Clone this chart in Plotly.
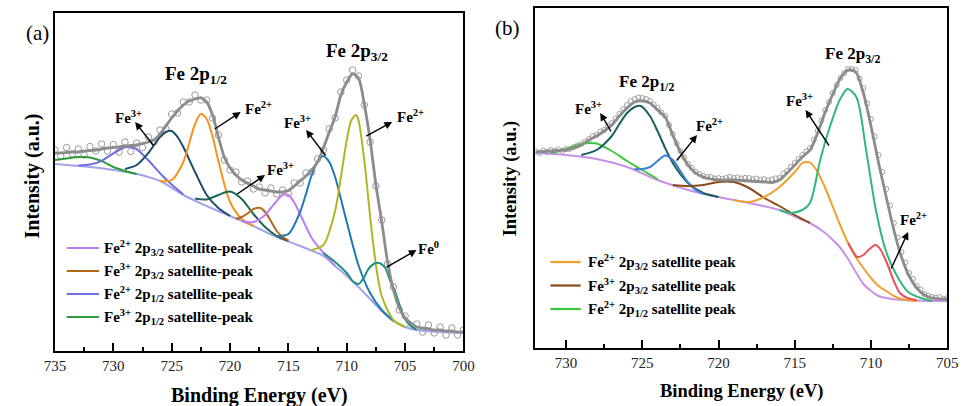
import plotly.graph_objects as go

W, H = 967, 406
FONT = "Liberation Serif"

# ================= Panel (a) data (binding energy eV, intensity a.u.) =================
be_a = [735.0, 734.5, 734.0, 733.5, 733.0, 732.5, 732.0, 731.5, 731.0, 730.5, 730.0, 729.5,
        729.0, 728.5, 728.0, 727.5, 727.0, 726.5, 726.0, 725.5, 725.0, 724.5, 724.0, 723.5,
        723.0, 722.5, 722.0, 721.5, 721.0, 720.5, 720.0, 719.5, 719.0, 718.5, 718.0, 717.5,
        717.0, 716.5, 716.0, 715.5, 715.0, 714.5, 714.0, 713.5, 713.0, 712.5, 712.0, 711.5,
        711.0, 710.5, 710.0, 709.5, 709.0, 708.5, 708.0, 707.5, 707.0, 706.5, 706.0, 705.5,
        705.0, 704.5, 704.0, 703.5, 703.0, 702.5, 702.0, 701.5, 701.0, 700.5, 700.0]
raw_a = [201, 195, 203.5, 197, 202, 196, 204.5, 200, 207, 200, 206.5, 199, 209, 199.5, 208,
         203.5, 214, 209, 221, 222, 237, 238, 249, 249, 256, 251, 251, 233, 216, 191, 181, 179,
         169, 170, 162, 164, 158, 163, 157, 161, 157.5, 168, 168, 178, 179, 192, 201, 222, 233,
         259, 271, 281, 275, 246, 209, 165, 131, 87, 64, 41, 35, 25, 27, 19, 26, 18, 24, 16, 23,
         16, 21]
fit_a = [198, 198, 198.5, 199, 199, 200, 200.5, 201, 202, 203, 203.5, 204, 205, 205.5, 206,
         207.5, 209, 211, 217, 225, 233, 240, 246, 250, 252, 253, 249, 236, 214, 194, 183, 176,
         171, 168, 165, 162, 161, 160, 159, 159, 160.5, 165, 170, 175, 181, 189, 203, 219, 234,
         256, 269, 277, 273, 247, 211, 166, 129, 89, 61, 43, 33, 28, 24, 23, 22, 21, 21, 20, 20,
         19, 19]

bg_a_be = [735, 732, 730, 728, 726, 724, 722, 720, 718, 716, 714, 712, 711, 710, 709, 708, 707,
           706, 705, 704, 702, 700]
bg_a = [187, 184, 181, 177, 170, 156, 145, 135, 125, 114, 105, 95, 85, 75, 64, 52, 40, 30, 24,
        21, 19, 18]

sat3_12_a_be = [735, 734, 733, 732.5, 732, 731, 730, 729, 728]
sat3_12_a = [191, 192.5, 194, 194, 193.5, 190, 184, 180, 177]

sat2_12_a_be = [733, 732, 731, 730, 729, 728.5, 728, 727, 726, 725, 724]
sat2_12_a = [185.5, 186.4, 190.2, 197.7, 203.8, 204, 201.8, 190.7, 177.7, 166.4, 156.5]

fe3_12_a_be = [729, 728, 727, 726, 725.5, 725, 724.5, 724, 723, 722, 721, 720]
fe3_12_a = [182, 186, 198, 214, 219, 220, 214, 204, 179, 156, 143, 135]

fe2_12_a_be = [726, 725, 724, 723, 722.5, 722, 721.5, 721, 720, 719, 718]
fe2_12_a = [170, 171, 189, 227, 237, 232, 214.5, 190, 149, 132, 125]

fe3s_a_be = [723, 722, 721, 720, 719, 718, 717, 716, 715]
fe3s_a = [152.5, 151.5, 156, 159.4, 152, 137, 124, 115, 110]

sat3_32_a_be = [719.5, 719, 718.5, 718, 717.4, 717, 716.5, 716, 715.5, 715]
sat3_32_a = [132, 134, 137.5, 142, 143, 139, 130, 120, 114.3, 110.5]

sat2_32_a_be = [719, 718, 717, 716.5, 716, 715.5, 715, 714.5, 714, 713, 712, 711]
sat2_32_a = [130, 129, 136, 143, 150, 156, 156, 148.5, 137, 113, 98, 85]

fe3_32_a_be = [716, 715, 714, 713, 712.5, 712, 711.5, 711, 710, 709, 708, 707, 706]
fe3_32_a = [115, 117, 139, 176, 189.5, 195, 189, 174, 129, 86, 58, 41, 30]

fe2_32_a_be = [713, 712, 711, 710.5, 710, 709.6, 709.2, 709, 708.5, 708, 707.5, 707, 706, 705]
fe2_32_a = [101, 106, 140, 174, 211, 231, 236, 231, 191, 135, 86, 55, 31, 24]

fe0_a_be = [712, 711, 710, 709.5, 709, 708.5, 708.2, 707.7, 707.2, 706.7, 706.3, 705.9, 705.5,
            705.1, 704.6, 704]
fe0_a = [98, 89, 78, 70, 67, 74, 81, 87, 88, 83, 71, 61, 47, 34, 26, 21]

# ================= Panel (b) data =================
be_b_fit = [732.0, 731.5, 731.0, 730.5, 730.0, 729.5, 729.0, 728.5, 728.0, 727.5, 727.0, 726.5,
            726.0, 725.5, 725.0, 724.5, 724.0, 723.5, 723.0, 722.5, 722.0, 721.5, 721.0, 720.5,
            720.0, 719.5, 719.0, 718.5, 718.0, 717.5, 717.0, 716.5, 716.0, 715.5, 715.0, 714.5,
            714.0, 713.5, 713.0, 712.5, 712.0, 711.5, 711.0, 710.5, 710.0, 709.5, 709.0, 708.5,
            708.0, 707.5, 707.0, 706.5, 706.0, 705.5, 705.0]
fit_b = [196, 196.5, 197, 197.5, 198, 200, 203, 208, 212, 217, 223, 232, 240, 246, 247, 245,
         238, 231, 213, 196, 183, 175, 171, 169, 168, 168, 168, 167.5, 167, 166.5, 166, 165.5,
         168, 175, 183, 191, 198, 215, 236, 254, 270, 278, 276, 255, 222, 185, 151, 118, 91, 72,
         60, 53, 50, 49, 49]

be_b_raw = [732.0, 731.75, 731.5, 731.25, 731.0, 730.75, 730.5, 730.25, 730.0, 729.75, 729.5,
            729.25, 729.0, 728.75, 728.5, 728.25, 728.0, 727.75, 727.5, 727.25, 727.0, 726.75,
            726.5, 726.25, 726.0, 725.75, 725.5, 725.25, 725.0, 724.75, 724.5, 724.25, 724.0,
            723.75, 723.5, 723.25, 723.0, 722.75, 722.5, 722.25, 722.0, 721.75, 721.5, 721.25,
            721.0, 720.75, 720.5, 720.25, 720.0, 719.75, 719.5, 719.25, 719.0, 718.75, 718.5,
            718.25, 718.0, 717.75, 717.5, 717.25, 717.0, 716.75, 716.5, 716.25, 716.0, 715.75,
            715.5, 715.25, 715.0, 714.75, 714.5, 714.25, 714.0, 713.75, 713.5, 713.25, 713.0,
            712.75, 712.5, 712.25, 712.0, 711.75, 711.5, 711.25, 711.0, 710.75, 710.5, 710.25,
            710.0, 709.75, 709.5, 709.25, 709.0, 708.75, 708.5, 708.25, 708.0, 707.75, 707.5,
            707.25, 707.0, 706.75, 706.5, 706.25, 706.0, 705.75, 705.5, 705.25, 705.0]
raw_b = [197, 195, 197.5, 196, 198, 197, 198.5, 197, 199, 199, 201, 202.5, 204, 206.5, 209, 212,
         213, 216.5, 218, 222, 225, 229.5, 234, 239, 243, 247, 249, 250.5, 250, 249, 247, 243.5,
         240, 235.5, 232, 223, 214, 204.5, 197, 190.5, 184, 180, 176, 174, 172, 171, 171, 169.5,
         170, 169, 170, 171, 170, 170.7, 169.5, 170.2, 170, 168.7, 169.5, 168.2, 169, 167.7,
         168.5, 169.7, 170, 174.5, 177, 181, 185, 189, 193, 196.5, 200, 208.5, 217, 227.5, 238,
         246, 255, 263, 270, 275, 279, 279, 278, 269.5, 260, 244.5, 229, 211.5, 193, 176, 159,
         142.5, 125, 110.5, 96, 85.5, 75, 69, 62, 58.5, 54, 52.5, 51, 50.5, 51, 49, 50]

bg_b_be = [732, 730, 728, 726, 724, 722, 720, 718, 716, 714.5, 714, 713, 712.5, 712, 711.5, 711,
           710.5, 710, 709.5, 709, 708, 706, 705]
bg_b = [195, 193, 189, 181, 168, 158, 151, 145, 138, 128, 125, 115, 108, 100, 89, 76, 64, 57,
        52, 50, 48, 47, 47]

sat2_12_b_be = [731, 730, 729, 728.4, 728, 727, 726, 725, 724]
sat2_12_b = [195, 199, 204, 205, 204.5, 197, 187, 178, 169]

fe3_12_b_be = [729, 728, 727, 726.5, 726, 725.5, 725.1, 724.5, 724, 723.5, 723, 722, 721, 720]
fe3_12_b = [193, 198, 212, 224, 235, 241, 242, 232, 217, 200, 185, 165, 155, 151]

fe2_12_b_be = [725.5, 725, 724.5, 724, 723.5, 723, 722.5, 722, 721.5, 721]
fe2_12_b = [179, 179, 181, 187, 192.5, 188, 177, 165.5, 158, 154]

sat3_32_b_be = [723, 722, 721, 720, 719, 718, 717, 716, 715, 714]
sat3_32_b = [163, 162, 163, 166, 166, 160, 150, 142, 133, 125]

sat2_32_b_be = [719, 718, 717, 716, 715, 714.5, 714.2, 714, 713.5, 713, 712.5, 712, 711.5, 711,
                710.5, 710, 709.5, 709, 708.5, 708, 707]
sat2_32_b = [148, 146, 151, 161, 176, 185, 186, 185.5, 176, 160, 141, 122, 105, 91, 80, 70, 62,
             57, 52, 49, 47]

fe3_32_b_be = [716, 715.3, 714.5, 714, 713.33, 712.7, 712.05, 711.54, 710.96, 710.32, 709.68,
               709.04, 708.4, 707.56, 706.73, 706]
fe3_32_b = [138, 135, 138, 145, 188, 221, 248, 259, 251, 198, 138, 98, 75, 56, 50, 47]

fe2_32_b_be = [711.5, 711.2, 710.9, 710.5, 710.1, 709.7, 709.4, 708.9, 708.5, 708.1, 707.6, 707]
fe2_32_b = [105, 97, 91, 93, 99, 103, 99, 83, 67, 55, 50, 48]

# ================= Figure =================
fig = go.Figure()


def line(x, y, color, width=2.0, xa="x", ya="y"):
    fig.add_trace(go.Scatter(x=x, y=y, mode="lines", xaxis=xa, yaxis=ya,
                             line=dict(color=color, width=width, shape="spline", smoothing=0.8),
                             showlegend=False, hoverinfo="skip"))


# panel a
fig.add_trace(go.Scatter(x=be_a, y=raw_a, mode="markers", xaxis="x", yaxis="y",
                         marker=dict(symbol="circle-open", size=6.5, color="#9a9a9a",
                                     line=dict(width=1)), showlegend=False))
line(bg_a_be, bg_a, "#a3a3ee")
line(sat3_12_a_be, sat3_12_a, "#2e9a3a")
line(sat2_12_a_be, sat2_12_a, "#6e6ee0")
line(fe3_12_a_be, fe3_12_a, "#1c4c6e")
line(fe2_12_a_be, fe2_12_a, "#f5941e")
line(fe3s_a_be, fe3s_a, "#1e6656")
line(sat3_32_a_be, sat3_32_a, "#b8661a")
line(sat2_32_a_be, sat2_32_a, "#c07cf0")
line(fe3_32_a_be, fe3_32_a, "#1f78b4")
line(fe2_32_a_be, fe2_32_a, "#b4b422")
line(fe0_a_be, fe0_a, "#1f8f80")
line(be_a, fit_a, "#8c8c8c", 2.8)

# panel b
fig.add_trace(go.Scatter(x=be_b_raw, y=raw_b, mode="markers", xaxis="x2", yaxis="y2",
                         marker=dict(symbol="circle-open", size=5, color="#a0a0a0",
                                     line=dict(width=1)), showlegend=False))
line(bg_b_be, bg_b, "#c891e8", 2.0, "x2", "y2")
line(sat2_12_b_be, sat2_12_b, "#3cc83c", 2.0, "x2", "y2")
line(fe3_12_b_be, fe3_12_b, "#1c5f60", 2.0, "x2", "y2")
line(fe2_12_b_be, fe2_12_b, "#3a7fd8", 2.0, "x2", "y2")
line(sat3_32_b_be, sat3_32_b, "#8a4a16", 2.0, "x2", "y2")
line(sat2_32_b_be, sat2_32_b, "#f0a030", 2.0, "x2", "y2")
line(fe3_32_b_be, fe3_32_b, "#30b878", 2.0, "x2", "y2")
line(fe2_32_b_be, fe2_32_b, "#e8505a", 2.0, "x2", "y2")
line(be_b_fit, fit_b, "#8c8c8c", 2.8, "x2", "y2")


def px(x):
    return x / W


def py(y):
    return 1 - y / H


axis_common = dict(showline=True, linecolor="black", linewidth=2, mirror=True, showgrid=False,
                   zeroline=False)
xcommon = dict(axis_common, ticks="inside", ticklen=8, tickwidth=2, tickcolor="black",
               dtick=5, tick0=700,
               minor=dict(ticks="inside", dtick=2.5, tick0=700, ticklen=4, tickwidth=1.5,
                          tickcolor="black"),
               tickfont=dict(family=FONT, size=15, color="#222"))
ycommon = dict(axis_common, showticklabels=False, ticks="")

fig.update_layout(
    width=W, height=H, margin=dict(l=0, r=0, t=0, b=0),
    paper_bgcolor="white", plot_bgcolor="white",
    xaxis=dict(xcommon, domain=[px(45), px(463)], range=[735, 700], anchor="y"),
    yaxis=dict(ycommon, domain=[py(351), py(13)], range=[0, 338], anchor="x"),
    xaxis2=dict(xcommon, domain=[px(536), px(958)], range=[732.05, 705], anchor="y2"),
    yaxis2=dict(ycommon, domain=[py(348), py(8)], range=[0, 340], anchor="x2"),
)

ann = []


def label(text, x, y, xr, yr, size=15, bold=True):
    t = "<b>" + text + "</b>" if bold else text
    ann.append(dict(text=t, x=x, y=y, xref=xr, yref=yr, showarrow=False,
                    font=dict(family=FONT, size=size, color="black"),
                    xanchor="center", yanchor="middle"))


def arrow(x0, y0, x1, y1, xr, yr):
    ann.append(dict(text="", x=x1, y=y1, ax=x0, ay=y0, xref=xr, yref=yr, axref=xr, ayref=yr,
                    showarrow=True, arrowhead=2, arrowsize=1.1, arrowwidth=1.4,
                    arrowcolor="black"))


# ---- panel a texts ----
label("Fe 2p<sub>1/2</sub>", 722.94, 276, "x", "y", 19)
label("Fe 2p<sub>3/2</sub>", 709.13, 299, "x", "y", 19)
label("Fe<sup>3+</sup>", 728.72, 234, "x", "y")
label("Fe<sup>2+</sup>", 717.6, 243, "x", "y")
label("Fe<sup>3+</sup>", 715.7, 182, "x", "y")
label("Fe<sup>3+</sup>", 714.23, 229, "x", "y")
label("Fe<sup>2+</sup>", 704.5, 235, "x", "y")
label("Fe<sup>0</sup>", 703.0, 103, "x", "y")
arrow(726.46, 204, 728.13, 229, "x", "y")
arrow(721.44, 221, 719.09, 239, "x", "y")
arrow(719.51, 156, 717.0, 176, "x", "y")
arrow(711.72, 194, 713.48, 221, "x", "y")
arrow(708.46, 214, 706.11, 229, "x", "y")
arrow(706.7, 83, 704.02, 101, "x", "y")

# ---- panel b texts ----
label("Fe 2p<sub>1/2</sub>", 724.74, 265, "x2", "y2", 17)
label("Fe 2p<sub>3/2</sub>", 711.22, 293, "x2", "y2", 17)
label("Fe<sup>3+</sup>", 728.53, 240, "x2", "y2")
label("Fe<sup>2+</sup>", 720.6, 223, "x2", "y2")
label("Fe<sup>3+</sup>", 714.68, 248, "x2", "y2")
label("Fe<sup>2+</sup>", 707.18, 129, "x2", "y2")
arrow(726.99, 215, 727.76, 235, "x2", "y2")
arrow(722.82, 186, 721.41, 213, "x2", "y2")
arrow(712.69, 201, 714.29, 238, "x2", "y2")
arrow(708.72, 78, 707.56, 116, "x2", "y2")

# ---- panel labels and axis titles ----
for t, x, y in [("(a)", 27, 33), ("(b)", 508, 28)]:
    ann.append(dict(text=t, x=px(x), y=py(y), xref="paper", yref="paper", showarrow=False,
                    font=dict(family=FONT, size=21, color="black"),
                    xanchor="center", yanchor="middle"))
for x, y, s in [(254, 395, 20), (747, 391, 18.5)]:
    ann.append(dict(text="<b>Binding Energy (eV)</b>", x=px(x), y=py(y), xref="paper",
                    yref="paper", showarrow=False, font=dict(family=FONT, size=s, color="black"),
                    xanchor="center", yanchor="middle"))
for x, y, s in [(21, 176, 20), (511, 178, 18.5)]:
    ann.append(dict(text="<b>Intensity (a.u.)</b>", x=px(x), y=py(y), xref="paper",
                    yref="paper", showarrow=False, textangle=-90,
                    font=dict(family=FONT, size=s, color="black"),
                    xanchor="center", yanchor="middle"))

# ---- legends (drawn manually) ----
legend_a = [("Fe<sup>2+</sup> 2p<sub>3/2</sub> satellite-peak", "#c07cf0", 248),
            ("Fe<sup>3+</sup> 2p<sub>3/2</sub> satellite-peak", "#b8661a", 271),
            ("Fe<sup>2+</sup> 2p<sub>1/2</sub> satellite-peak", "#6e6ee0", 294),
            ("Fe<sup>3+</sup> 2p<sub>1/2</sub> satellite-peak", "#2e9a3a", 317)]
legend_b = [("Fe<sup>2+</sup> 2p<sub>3/2</sub> satellite peak", "#f0a030", 262),
            ("Fe<sup>3+</sup> 2p<sub>3/2</sub> satellite peak", "#8a4a16", 285.5),
            ("Fe<sup>2+</sup> 2p<sub>1/2</sub> satellite peak", "#3cc83c", 309)]
shapes = []
for items, x0, x1, xt in [(legend_a, 57, 90, 93), (legend_b, 552, 583, 588)]:
    for text, col, yy in items:
        shapes.append(dict(type="line", xref="paper", yref="paper", x0=px(x0), x1=px(x1),
                           y0=py(yy), y1=py(yy), line=dict(color=col, width=2.2)))
        ann.append(dict(text="<b>" + text + "</b>", x=px(xt), y=py(yy), xref="paper",
                        yref="paper", showarrow=False, xanchor="left", yanchor="middle",
                        font=dict(family=FONT, size=15, color="black")))

fig.update_layout(annotations=ann, shapes=shapes)
fig.write_html("out.html")
